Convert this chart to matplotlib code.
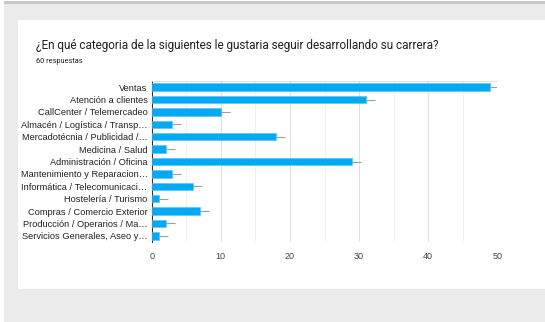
import matplotlib
matplotlib.use("Agg")
import matplotlib.pyplot as plt
from matplotlib.patches import Rectangle
import numpy as np

plt.rcParams['font.family'] = ['Roboto', 'DejaVu Sans']

categories = [
    "Ventas",
    "Atención a clientes",
    "CallCenter / Telemercadeo",
    "Almacén / Logística / Transp…",
    "Mercadotécnia / Publicidad /…",
    "Medicina / Salud",
    "Administración / Oficina",
    "Mantenimiento y Reparacion…",
    "Informática / Telecomunicaci…",
    "Hostelería / Turismo",
    "Compras / Comercio Exterior",
    "Producción / Operarios / Ma…",
    "Servicios Generales, Aseo y…",
]
counts = [49, 31, 10, 3, 18, 2, 29, 3, 6, 1, 7, 2, 1]
x_ticks = [0, 10, 20, 30, 40, 50]

title = "¿En qué categoria de la siguientes le gustaria seguir desarrollando su carrera?"
subtitle = "60 respuestas"

W, H = 545, 322
fig = plt.figure(figsize=(W / 100, H / 100), dpi=100)
fig.patch.set_facecolor("white")


def px_rect(x0, y0, x1, y1, color):
    fig.patches.append(Rectangle((x0 / W, 1 - y1 / H), (x1 - x0) / W, (y1 - y0) / H,
                                 transform=fig.transFigure, facecolor=color,
                                 edgecolor="none", zorder=-10))


# page background, top bar and white card
px_rect(4, 1, W, H, "#ebebeb")
px_rect(4, 1, W, 4, "#c8c8c8")
px_rect(18, 20, W, 289, "white")

fig.text(36 / W, 1 - 45 / H, title, fontsize=8.5, color="#202124", va="center", ha="left")
fig.text(36 / W, 1 - 61.5 / H, subtitle, fontsize=5.3, color="#202124", va="center", ha="left")

ax = fig.add_axes([151.7 / W, 1 - 242 / H, (497.3 - 151.7) / W, (242 - 81) / H])
ax.set_facecolor("none")

y = np.arange(len(categories))
vals = np.array(counts, dtype=float)
ax.barh(y, vals, height=0.6, color="#03a9f4", edgecolor="#4fc3f7", linewidth=0.4, zorder=3)
ax.hlines(y, vals, vals + 1.3, color="#9e9e9e", linewidth=0.8, zorder=2)

ax.set_ylim(len(categories) - 0.5, -0.5)
ax.set_xlim(0, 50)
ax.set_yticks(y)
ax.set_yticklabels(categories, fontsize=6.7, color="#222222",
                   family=["Liberation Sans", "DejaVu Sans"])
ax.set_xticks(x_ticks)
ax.set_xticklabels([str(t) for t in x_ticks], fontsize=6.5, color="#444444",
                   family=["Liberation Sans", "DejaVu Sans"])
ax.tick_params(axis="both", length=0, pad=3)
ax.tick_params(axis="x", pad=7)

for gx in range(5, 51, 5):
    ax.axvline(gx, color="#dcdcdc" if gx % 10 == 0 else "#eeeeee", linewidth=0.6, zorder=1)

ax.spines["left"].set_color("#333333")
ax.spines["left"].set_linewidth(0.8)
ax.spines["top"].set_color("#dcdcdc")
ax.spines["top"].set_linewidth(0.6)
ax.spines["right"].set_visible(False)
ax.spines["bottom"].set_visible(False)

fig.savefig("out.png", dpi=100)
